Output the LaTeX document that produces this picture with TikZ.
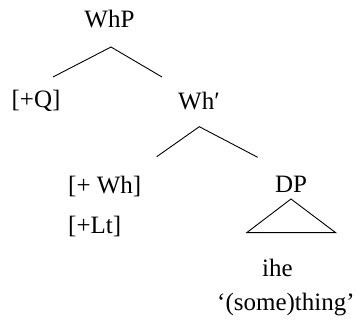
\documentclass[tikz,border=0pt]{standalone}
\usepackage{fontspec}
\setmainfont{Liberation Serif}
\begin{document}
\begin{tikzpicture}[x=1pt,y=1pt,
    lbl/.style={inner sep=0pt,anchor=base,font=\fontsize{25}{30}\selectfont},
    lbll/.style={lbl,anchor=base west},
    branch/.style={line width=0.9pt}]
  \useasboundingbox (0,0) rectangle (360,326);
  % labels
  \node[lbl] (whp) at (109.5,298) {WhP};
  \node[lbl] (q) at (36,218.5) {[+Q]};
  \node[lbl] (whbar) at (199,216) {Wh′};
  \node[lbll] (wh) at (68,132.5) {[+ Wh]};
  \node[lbll] (lt) at (68,92.5) {[+Lt]};
  \node[lbl] (dp) at (291,133) {DP};
  \node[lbl] (ihe) at (277.5,49) {ihe};
  \node[lbll] (gloss) at (217,15) {‘(some)thing’};
  % branch points
  \coordinate (whp-top) at (111,279);
  \coordinate (whp-l) at (53,249);
  \coordinate (whp-r) at (162,249);
  \coordinate (whbar-top) at (199.3,199.3);
  \coordinate (whbar-l) at (156.7,169.3);
  \coordinate (whbar-r) at (257.7,168.7);
  \coordinate (dp-top) at (291,127);
  \coordinate (dp-l) at (246.7,93.3);
  \coordinate (dp-r) at (335.7,93.3);
  \draw[branch] (whp-l) -- (whp-top) -- (whp-r);
  \draw[branch] (whbar-l) -- (whbar-top) -- (whbar-r);
  \draw[branch] (dp-top) -- (dp-l) -- (dp-r) -- cycle;
\end{tikzpicture}
\end{document}
